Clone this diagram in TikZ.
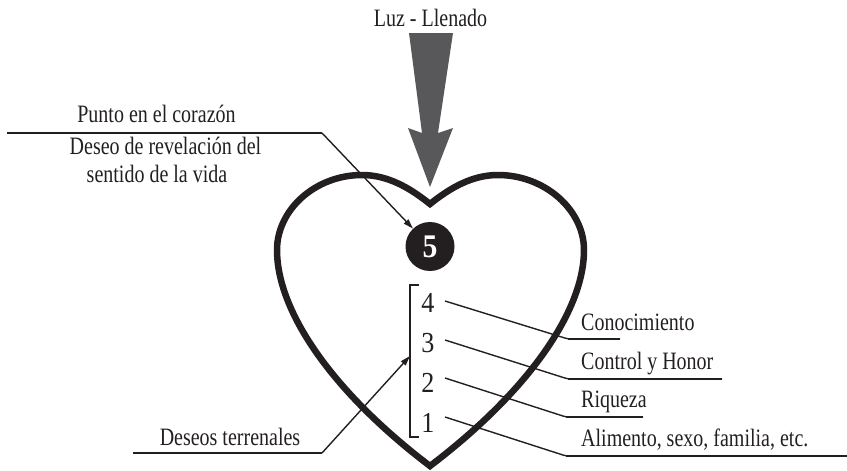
\documentclass[tikz,border=0pt]{standalone}
\usepackage{fontspec}
\setmainfont{Liberation Serif}[FakeStretch=0.8]
\newfontfamily\digitfont{Liberation Serif}[FakeStretch=0.9]
\usetikzlibrary{arrows.meta}
\definecolor{arrowgray}{HTML}{58585A}
\definecolor{ink}{HTML}{231F20}
\tikzset{
  lbl/.style={inner sep=0pt, text=ink, font=\fontsize{25}{29}\selectfont},
  num/.style={inner sep=0pt, text=ink, font=\digitfont\fontsize{29}{33}\selectfont},
  thin/.style={draw=ink, line width=1.4pt},
  uline/.style={draw=ink, line width=2pt},
  tip/.style={-{Triangle[length=10pt,width=6pt]}},
  heart/.style={draw=ink, line width=6.5pt, line join=miter, miter limit=10},
}
\begin{document}
\begin{tikzpicture}[x=1pt,y=-1pt]
\useasboundingbox (0,0) rectangle (847,471);

% top arrow
\node[lbl, anchor=base] (luz) at (430.5,26) {Luz - Llenado};
\fill[arrowgray] (409,33) -- (453,33) -- (438,133) -- (453,128) -- (430,187)
  -- (408,128) -- (422,133) -- cycle;

% heart
\draw[heart] (430,204)
  .. controls (410,188) and (388,175) .. (362,175)
  .. controls (315,175) and (277,210) .. (277,250)
  .. controls (277,310) and (330,390) .. (430,466)
  .. controls (530,390) and (584,310) .. (584,250)
  .. controls (584,210) and (545,175) .. (498,175)
  .. controls (472,175) and (450,188) .. cycle;

% circle 5
\node[circle, fill=ink, minimum size=49pt, inner sep=0pt, text=white,
  font=\digitfont\bfseries\fontsize{33}{35}\selectfont] (c5) at (430,246.5) {5};

% left labels
\node[lbl, anchor=base] (punto) at (156.5,122) {Punto en el corazón};
\node[lbl, anchor=base] (deseo1) at (165.5,154) {Deseo de revelación del};
\node[lbl, anchor=base] (deseo2) at (157,182) {sentido de la vida};
\coordinate (pu0) at (7,133);
\coordinate (pu1) at (322,133);
\draw[uline] (pu0) -- (pu1);
\draw[thin, tip] (pu1) -- (c5);

% bracket and numbers
\coordinate (bt) at (419,285);
\coordinate (bb) at (419,437);
\draw[draw=ink, line width=2pt] (bt) -- (410,285) -- (410,437) -- (bb);
\node[num, anchor=base] (n4) at (428,312) {4};
\node[num, anchor=base] (n3) at (428,352) {3};
\node[num, anchor=base] (n2) at (428,392) {2};
\node[num, anchor=base] (n1) at (428,432) {1};

% deseos terrenales
\node[lbl, anchor=base] (terr) at (230,445) {Deseos terrenales};
\coordinate (dt0) at (133,453);
\coordinate (dt1) at (322,453);
\coordinate (brk) at (410,356);
\draw[uline] (dt0) -- (dt1);
\draw[thin, tip] (dt1) -- (brk);

% right labels
\node[lbl, anchor=base west] (l4) at (581,330.5) {Conocimiento};
\node[lbl, anchor=base west] (l3) at (581,369) {Control y Honor};
\node[lbl, anchor=base west] (l2) at (581,407.5) {Riqueza};
\node[lbl, anchor=base west] (l1) at (581,446.5) {Alimento, sexo, familia, etc.};

\coordinate (s4) at (445,301);
\coordinate (k4) at (568,339);
\coordinate (e4) at (620,339);
\coordinate (s3) at (445,340);
\coordinate (k3) at (568,379);
\coordinate (e3) at (722,379);
\coordinate (s2) at (445,378);
\coordinate (k2) at (566,417);
\coordinate (e2) at (643,417);
\coordinate (s1) at (445,417);
\coordinate (k1) at (566,456);
\coordinate (e1) at (847,456);
\foreach \i in {1,2,3,4}{
  \draw[thin, rounded corners=3pt] (s\i) -- (k\i) -- (e\i);
  \draw[uline] (k\i) -- (e\i);
}
\end{tikzpicture}
\end{document}
